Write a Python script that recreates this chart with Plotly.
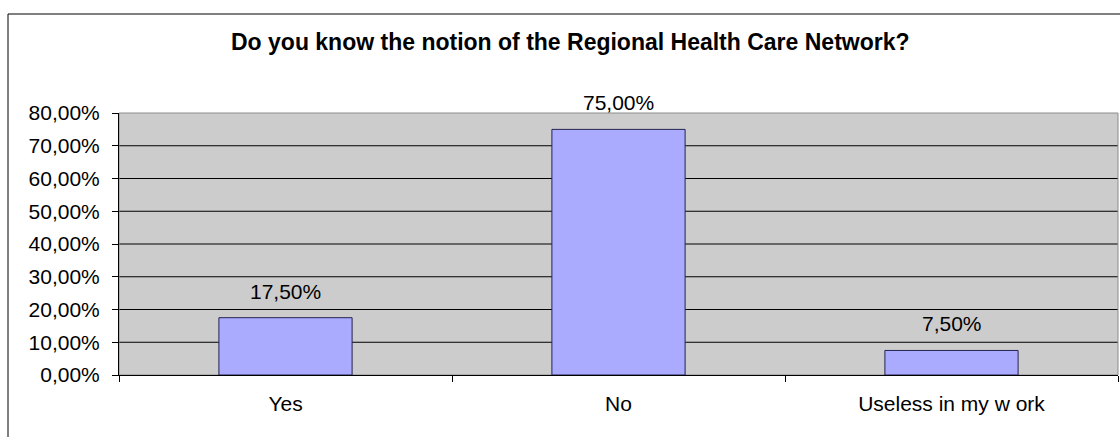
import plotly.graph_objects as go

# Survey answers and their shares (percent)
categories = ["Yes", "No", "Useless in my w ork"]
shares = [17.5, 75.0, 7.5]

# Value axis ticks
y_ticks = [0, 10, 20, 30, 40, 50, 60, 70, 80]
y_tick_labels = ["0,00%", "10,00%", "20,00%", "30,00%", "40,00%",
                 "50,00%", "60,00%", "70,00%", "80,00%"]

title_text = "Do you know the notion of the Regional Health Care Network?"

FONT = "Arial, Liberation Sans, sans-serif"
W, H = 1120, 437
ML, MR, MT, MB = 119, 2, 113, 62
PW, PH = W - ML - MR, H - MT - MB


def pct(v):
    return f"{v:.2f}".replace(".", ",") + "%"


def px_x(p):
    """pixel column -> paper x"""
    return (p - ML) / PW


def px_y(p):
    """pixel row -> paper y"""
    return (H - MB - p) / PH


fig = go.Figure()
fig.add_trace(go.Bar(
    x=categories,
    y=shares,
    marker=dict(color="#AAAAFF", line=dict(color="#232350", width=1)),
    hoverinfo="x+y",
))

# value labels above bars
for c, v in zip(categories, shares):
    fig.add_annotation(
        x=c, y=v, xref="x", yref="y", text=pct(v), showarrow=False,
        yanchor="bottom", yshift=13,
        font=dict(family=FONT, size=21, color="#000000"),
    )

# horizontal gridlines (inner ticks only; the top edge is the plot border)
for t in y_ticks[1:-1]:
    fig.add_shape(type="line", xref="paper", yref="y", x0=0, x1=1, y0=t, y1=t,
                  line=dict(color="#000000", width=1), layer="below")

# gray plot-area border
fig.add_shape(type="rect", xref="paper", yref="paper", x0=0, x1=1, y0=0, y1=1,
              line=dict(color="#8C8C8C", width=1), layer="below")

# outer chart frame (runs past the right and bottom edges)
fig.add_shape(type="rect", xref="paper", yref="paper",
              x0=px_x(8), x1=px_x(W + 10), y0=px_y(H + 10), y1=px_y(14),
              line=dict(color="#000000", width=1), layer="above")

# chart title
fig.add_annotation(
    x=px_x(570), y=px_y(42), xref="paper", yref="paper",
    text="<b>" + title_text + "</b>", showarrow=False,
    xanchor="center", yanchor="middle",
    font=dict(family=FONT, size=23, color="#000000"),
)

fig.update_layout(
    width=W, height=H,
    margin=dict(l=ML, r=MR, t=MT, b=MB, pad=0),
    paper_bgcolor="#FFFFFF",
    plot_bgcolor="#CCCCCC",
    showlegend=False,
    bargap=0.6,
    font=dict(family=FONT, size=21, color="#000000"),
    xaxis=dict(
        type="category",
        tickson="boundaries",
        ticks="outside", ticklen=6, tickcolor="#000000", tickwidth=1,
        showline=True, linecolor="#000000", linewidth=1,
        showgrid=False, zeroline=False,
        ticklabelstandoff=10,
        tickfont=dict(family=FONT, size=21, color="#000000"),
        fixedrange=True,
    ),
    yaxis=dict(
        range=[0, 80],
        tickvals=y_ticks, ticktext=y_tick_labels,
        ticks="outside", ticklen=6, tickcolor="#000000", tickwidth=1,
        showline=True, linecolor="#000000", linewidth=1,
        showgrid=False, zeroline=False,
        ticklabelstandoff=8,
        tickfont=dict(family=FONT, size=21, color="#000000"),
        fixedrange=True,
    ),
)

fig.write_html("out.html", config={"displayModeBar": False})
